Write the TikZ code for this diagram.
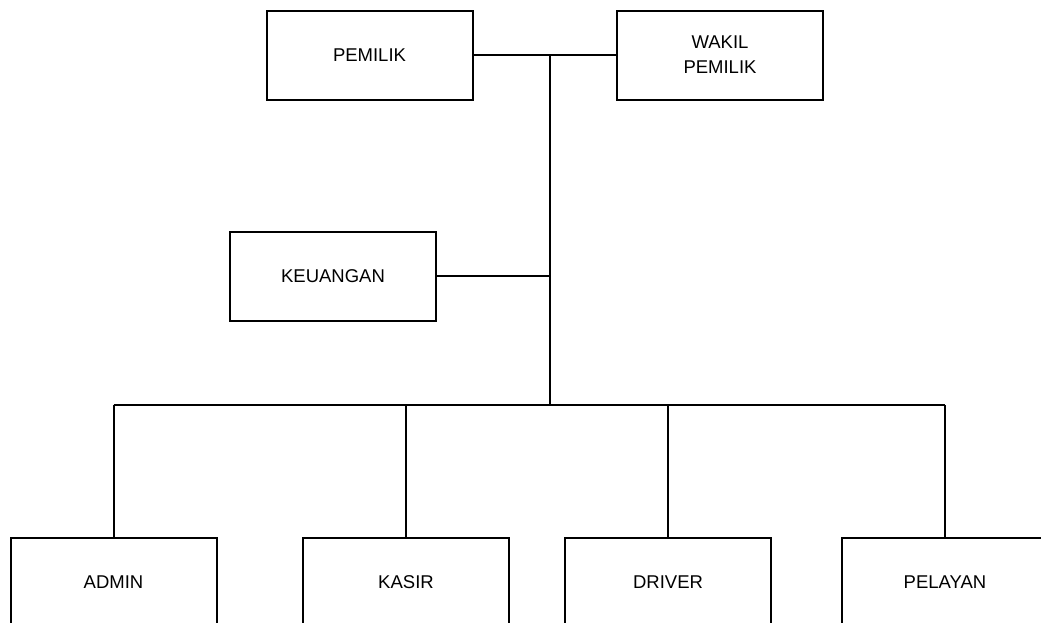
\documentclass[tikz,border=0pt]{standalone}
\usepackage{fontspec}
\setmainfont{Liberation Sans}
\usetikzlibrary{positioning,calc}

\begin{document}
\begin{tikzpicture}[x=1pt, y=-1pt, line width=2pt,
  jabatan/.style={draw, fill=white, minimum width=206pt, minimum height=89pt,
    align=center, inner sep=0pt, font=\fontsize{18.5}{25}\selectfont}]
\useasboundingbox (0,0) rectangle (1041,622);
\node[jabatan] (pemilik) at (369.5,55) {PEMILIK};
\node[jabatan] (wakil) at (720,55) {WAKIL\\PEMILIK};
\node[jabatan] (keuangan) at (333,276) {KEUANGAN};
\coordinate (puncak) at (550,55);
\coordinate (bus) at (550,405);
\foreach \n/\x/\t in {admin/113.5/ADMIN, kasir/406/KASIR, driver/668/DRIVER, pelayan/945/PELAYAN}
  \node[jabatan] (\n) at (\x,582) {\t};
\draw (pemilik) -- (wakil);
\draw (puncak) -- (bus);
\draw (keuangan.east) -- (keuangan.east -| puncak);
\draw (bus -| admin) -- (bus -| pelayan);
\foreach \n in {admin, kasir, driver, pelayan}
  \draw (bus -| \n) -- (\n.north);
\end{tikzpicture}
\end{document}
